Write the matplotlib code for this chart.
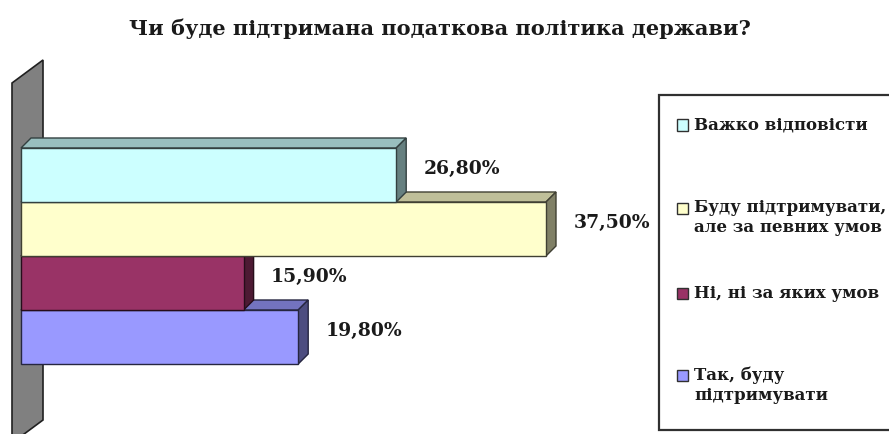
import matplotlib
matplotlib.use("Agg")
import matplotlib.pyplot as plt
from matplotlib.patches import Polygon, Rectangle
from matplotlib.colors import to_rgb

# ---- data -------------------------------------------------------------
title = "Чи буде підтримана податкова політика держави?"
categories = [
    "Важко відповісти",
    "Буду підтримувати,\nале за певних умов",
    "Ні, ні за яких умов",
    "Так, буду\nпідтримувати",
]
values = [26.8, 37.5, 15.9, 19.8]
value_labels = ["26,80%", "37,50%", "15,90%", "19,80%"]
colors = ["#CCFFFF", "#FFFFCC", "#993366", "#9999FF"]

# ---- layout -----------------------------------------------------------
W, H = 889, 434
PX_PER_PCT = 14.0      # horizontal scale of the value axis
X0_PX = 21.0           # where 0 % sits
ROW_PX = 54.0          # height of one category row
ROW0_PX = 175.0        # centre of the first row
DEPTH_PX = 10.0        # 3-D depth of the bars

serif = ["DejaVu Serif", "Liberation Serif"]
plt.rcParams["font.family"] = serif

fig = plt.figure(figsize=(W / 100, H / 100), dpi=100)
fig.patch.set_facecolor("white")
ax = fig.add_axes([0, 0, 1, 1])
ax.set_xlim(-X0_PX / PX_PER_PCT, (W - X0_PX) / PX_PER_PCT)
ax.set_ylim((H - ROW0_PX) / ROW_PX, -ROW0_PX / ROW_PX)
ax.axis("off")

dx = DEPTH_PX / PX_PER_PCT
dy = DEPTH_PX / ROW_PX


def shade(c, f):
    r, g, b = to_rgb(c)
    return (r * f, g * f, b * f)


def px_to_data(px, py):
    return ((px - X0_PX) / PX_PER_PCT, (py - ROW0_PX) / ROW_PX)


# side wall of the 3-D plot area
wall = [px_to_data(12, 83), px_to_data(43, 60), px_to_data(43, 420), px_to_data(12, 443)]
ax.add_patch(Polygon(wall, closed=True, facecolor="#808080",
                     edgecolor="#202020", lw=1.2, zorder=1))

# bars, drawn bottom row first so upper rows overlap the depth faces
n = len(values)
for k in reversed(range(n)):
    v, c = values[k], colors[k]
    top_y, bot_y = k - 0.5, k + 0.5
    edge = shade(c, 0.25)
    z = 2 + (n - k) * 3
    top_face = [(0, top_y), (v, top_y), (v + dx, top_y - dy), (dx, top_y - dy)]
    side_face = [(v, top_y), (v + dx, top_y - dy), (v + dx, bot_y - dy), (v, bot_y)]
    ax.add_patch(Polygon(top_face, closed=True, facecolor=shade(c, 0.75),
                         edgecolor=edge, lw=1.0, zorder=z))
    ax.add_patch(Polygon(side_face, closed=True, facecolor=shade(c, 0.5),
                         edgecolor=edge, lw=1.0, zorder=z + 1))
    ax.barh(k, v, height=1.0, left=0, color=c, edgecolor=edge,
            lw=1.0, zorder=z + 2)
    ax.text(v + dx + 1.25, k - 0.12, value_labels[k], ha="left", va="center",
            fontsize=13.5, fontweight="bold", color="#1a1a1a", zorder=40)


# ---- title and legend (figure pixel coordinates) ----------------------
def fx(px):
    return px / W


def fy(py):
    return 1 - py / H


fig.text(fx(440), fy(29), title, ha="center", va="center", fontsize=15,
         fontweight="bold", color="#1a1a1a")

fig.add_artist(Rectangle((fx(659), fy(430)), fx(900) - fx(659), fy(95) - fy(430),
                         transform=fig.transFigure, facecolor="white",
                         edgecolor="#303030", lw=1.6, zorder=5))

legend_rows = [125, 208, 293, 375]
line_gap = 20
for k, (lab, row) in enumerate(zip(categories, legend_rows)):
    fig.add_artist(Rectangle((fx(677), fy(row + 5.5)), fx(11), 11 / H,
                             transform=fig.transFigure, facecolor=colors[k],
                             edgecolor="#303030", lw=1.0, zorder=6))
    for j, line in enumerate(lab.split("\n")):
        fig.text(fx(694), fy(row + j * line_gap), line, ha="left", va="center",
                 fontsize=12, fontweight="bold", color="#1a1a1a", zorder=7)

fig.savefig("out.png", dpi=100, facecolor="white")
